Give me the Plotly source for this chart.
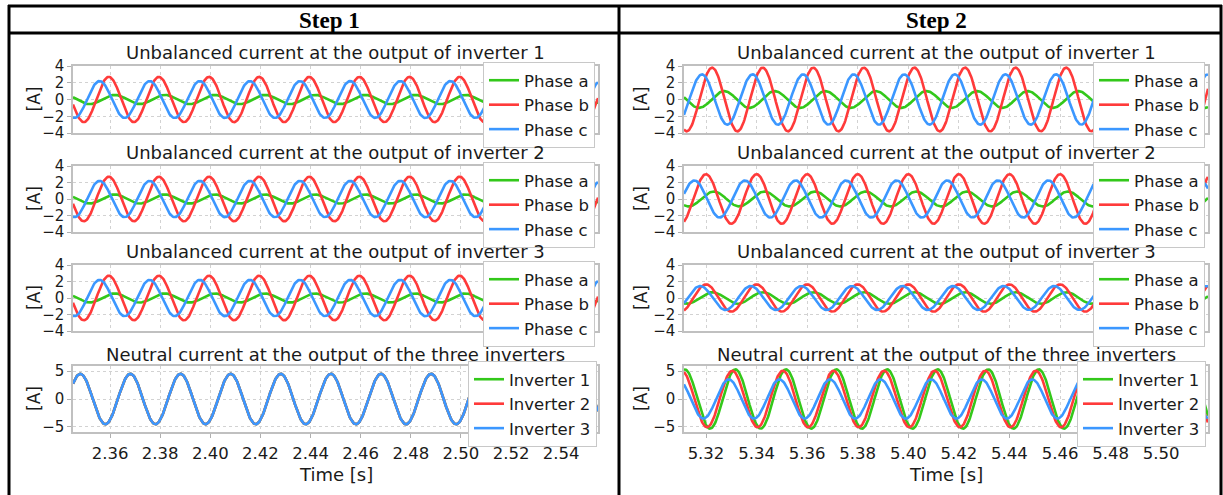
import numpy as np
import plotly.graph_objects as go

FIG_W, FIG_H = 1223, 495
FREQ_HZ = 50.0

STEP_TITLES = ["Step 1", "Step 2"]
PANEL_TITLES = [
    "Unbalanced current at the output of inverter 1",
    "Unbalanced current at the output of inverter 2",
    "Unbalanced current at the output of inverter 3",
    "Neutral current at the output of the three inverters",
]
PHASE_NAMES = ["Phase a", "Phase b", "Phase c"]
INVERTER_NAMES = ["Inverter 1", "Inverter 2", "Inverter 3"]
SERIES_COLORS = ["#33c81a", "#ff3a3a", "#3b97ff"]

STEP1_TIME_RANGE = [2.3452, 2.5547]
STEP2_TIME_RANGE = [5.3113, 5.5185]
STEP1_TICKS = [2.36, 2.38, 2.40, 2.42, 2.44, 2.46, 2.48, 2.50, 2.52, 2.54]
STEP2_TICKS = [5.32, 5.34, 5.36, 5.38, 5.40, 5.42, 5.44, 5.46, 5.48, 5.50]
PHASE_Y_TICKS = [-4, -2, 0, 2, 4]
NEUTRAL_Y_TICKS = [-5, 0, 5]

# Sinusoidal waveforms: amplitude [A] and time of a positive peak [s]
# order: phase a, phase b, phase c  /  inverter 1, inverter 2, inverter 3
STEP1_INV1_AMP = [0.55, 2.7, 2.2]
STEP1_INV1_PEAK = [2.3618, 2.3595, 2.3558]
STEP1_INV2_AMP = [0.55, 2.7, 2.2]
STEP1_INV2_PEAK = [2.3618, 2.3595, 2.3558]
STEP1_INV3_AMP = [0.55, 2.7, 2.2]
STEP1_INV3_PEAK = [2.3618, 2.3595, 2.3558]
STEP1_NEUTRAL_AMP = [4.5, 4.5, 4.5]
STEP1_NEUTRAL_PEAK = [2.3681, 2.3681, 2.3681]

STEP2_INV1_AMP = [1.0, 3.8, 3.0]
STEP2_INV1_PEAK = [5.3272, 5.3224, 5.3184]
STEP2_INV2_AMP = [0.9, 3.0, 2.25]
STEP2_INV2_PEAK = [5.3231, 5.3200, 5.3154]
STEP2_INV3_AMP = [0.7, 1.65, 1.45]
STEP2_INV3_PEAK = [5.3225, 5.3200, 5.3177]
STEP2_NEUTRAL_AMP = [5.3, 5.05, 3.5]
STEP2_NEUTRAL_PEAK = [5.3316, 5.3304, 5.3290]

COLUMNS = [
    dict(trange=STEP1_TIME_RANGE, ticks=STEP1_TICKS,
         amps=[STEP1_INV1_AMP, STEP1_INV2_AMP, STEP1_INV3_AMP, STEP1_NEUTRAL_AMP],
         peaks=[STEP1_INV1_PEAK, STEP1_INV2_PEAK, STEP1_INV3_PEAK, STEP1_NEUTRAL_PEAK]),
    dict(trange=STEP2_TIME_RANGE, ticks=STEP2_TICKS,
         amps=[STEP2_INV1_AMP, STEP2_INV2_AMP, STEP2_INV3_AMP, STEP2_NEUTRAL_AMP],
         peaks=[STEP2_INV1_PEAK, STEP2_INV2_PEAK, STEP2_INV3_PEAK, STEP2_NEUTRAL_PEAK]),
]

# ---- layout geometry (pixels) ----
COL_X = [(73, 598), (684, 1208)]
ROW_Y = [(66, 133), (166, 232), (265, 331), (366, 432)]
ROW_TITLE_Y = [52, 152, 251, 354]
YLABEL_X = [34, 641]
STEP_X = [329, 936]
LEGEND_RIGHT = [[595, 595, 595, 597], [1205, 1205, 1205, 1206]]
LEGEND_TOP = [62, 162, 261, 361]

FONT = "DejaVu Sans"
TXT = "#1a1a1a"
GRID = "#d2d2d2"
FRAME = "#c0c0c0"


def px_x(p):
    return p / FIG_W


def px_y(p):
    return 1 - p / FIG_H


fig = go.Figure()
layout = dict(
    width=FIG_W, height=FIG_H, autosize=False,
    margin=dict(l=0, r=0, t=0, b=0, pad=0, autoexpand=False),
    paper_bgcolor="white", plot_bgcolor="white",
    font=dict(family=FONT, size=16, color=TXT),
    annotations=[], shapes=[],
)

n = 0
for c, col in enumerate(COLUMNS):
    t = np.linspace(col["trange"][0], col["trange"][1], 800)
    for r in range(4):
        n += 1
        xa = "x" if n == 1 else f"x{n}"
        ya = "y" if n == 1 else f"y{n}"
        lg = "legend" if n == 1 else f"legend{n}"
        names = INVERTER_NAMES if r == 3 else PHASE_NAMES
        for k in range(3):
            amp = col["amps"][r][k]
            pk = col["peaks"][r][k]
            y = amp * np.cos(2 * np.pi * FREQ_HZ * (t - pk))
            fig.add_trace(go.Scatter(
                x=t, y=y, mode="lines", name=names[k],
                line=dict(color=SERIES_COLORS[k], width=2.6),
                xaxis=xa, yaxis=ya, legend=lg, showlegend=True,
            ))
        x0, x1 = COL_X[c]
        y0, y1 = ROW_Y[r]
        bottom = r == 3
        layout["xaxis" if n == 1 else f"xaxis{n}"] = dict(
            domain=[px_x(x0), px_x(x1)], anchor=ya,
            range=col["trange"], tickvals=col["ticks"], tickformat=".2f",
            showticklabels=bottom, ticks="outside" if bottom else "",
            ticklen=4, tickcolor="#b0b0b0", ticklabelstandoff=1,
            tickfont=dict(size=16.5, color=TXT, family=FONT),
            showgrid=True, gridcolor=GRID, griddash="dot", gridwidth=1,
            showline=True, mirror=True, linecolor=FRAME, linewidth=1.5,
            zeroline=False, fixedrange=True, automargin=False,
        )
        yt = NEUTRAL_Y_TICKS if bottom else PHASE_Y_TICKS
        yr = [-5.9, 5.9] if bottom else [-4, 4]
        layout["yaxis" if n == 1 else f"yaxis{n}"] = dict(
            domain=[px_y(y1), px_y(y0)], anchor=xa,
            range=yr, tickvals=yt,
            ticks="outside", ticklen=4, tickcolor="#b0b0b0", ticklabelstandoff=0,
            tickfont=dict(size=15, color=TXT, family=FONT),
            showgrid=True, gridcolor=GRID, griddash="dot", gridwidth=1,
            showline=True, mirror=True, linecolor=FRAME, linewidth=1.5,
            zeroline=False, fixedrange=True, automargin=False,
        )
        layout[lg] = dict(
            x=px_x(LEGEND_RIGHT[c][r]), xanchor="right",
            y=px_y(LEGEND_TOP[r]), yanchor="top",
            bgcolor="white", bordercolor="#c8c8c8", borderwidth=1,
            font=dict(size=16.5, color=TXT, family=FONT),
            itemwidth=30, tracegroupgap=0,
        )
        layout["annotations"].append(dict(
            text=PANEL_TITLES[r], xref="paper", yref="paper",
            x=px_x((x0 + x1) / 2), y=px_y(ROW_TITLE_Y[r]),
            xanchor="center", yanchor="middle", showarrow=False,
            font=dict(size=18, color=TXT, family=FONT),
        ))
        layout["annotations"].append(dict(
            text="[A]", xref="paper", yref="paper", textangle=-90,
            x=px_x(YLABEL_X[c]), y=px_y((y0 + y1) / 2),
            xanchor="center", yanchor="middle", showarrow=False,
            font=dict(size=17, color=TXT, family=FONT),
        ))
    layout["annotations"].append(dict(
        text="Time [s]", xref="paper", yref="paper",
        x=px_x((COL_X[c][0] + COL_X[c][1]) / 2), y=px_y(474),
        xanchor="center", yanchor="middle", showarrow=False,
        font=dict(size=18, color=TXT, family=FONT),
    ))
    layout["annotations"].append(dict(
        text="<b>" + STEP_TITLES[c] + "</b>", xref="paper", yref="paper",
        x=px_x(STEP_X[c]), y=px_y(20),
        xanchor="center", yanchor="middle", showarrow=False,
        font=dict(size=23, color="black", family="Liberation Serif"),
    ))

# table borders
BORDER_LINES = [
    (8, 6, 1222, 6),
    (8, 33, 1222, 33),
    (9, 5, 9, 495),
    (619, 5, 619, 495),
    (1221, 5, 1221, 495),
]
for (ax0, ay0, ax1, ay1) in BORDER_LINES:
    layout["shapes"].append(dict(
        type="line", xref="paper", yref="paper",
        x0=px_x(ax0), y0=px_y(ay0), x1=px_x(ax1), y1=px_y(ay1),
        line=dict(color="black", width=3),
    ))

fig.update_layout(**layout)
fig.write_html("out.html", config={"displayModeBar": False},
               post_script="document.body.style.margin='0';")
